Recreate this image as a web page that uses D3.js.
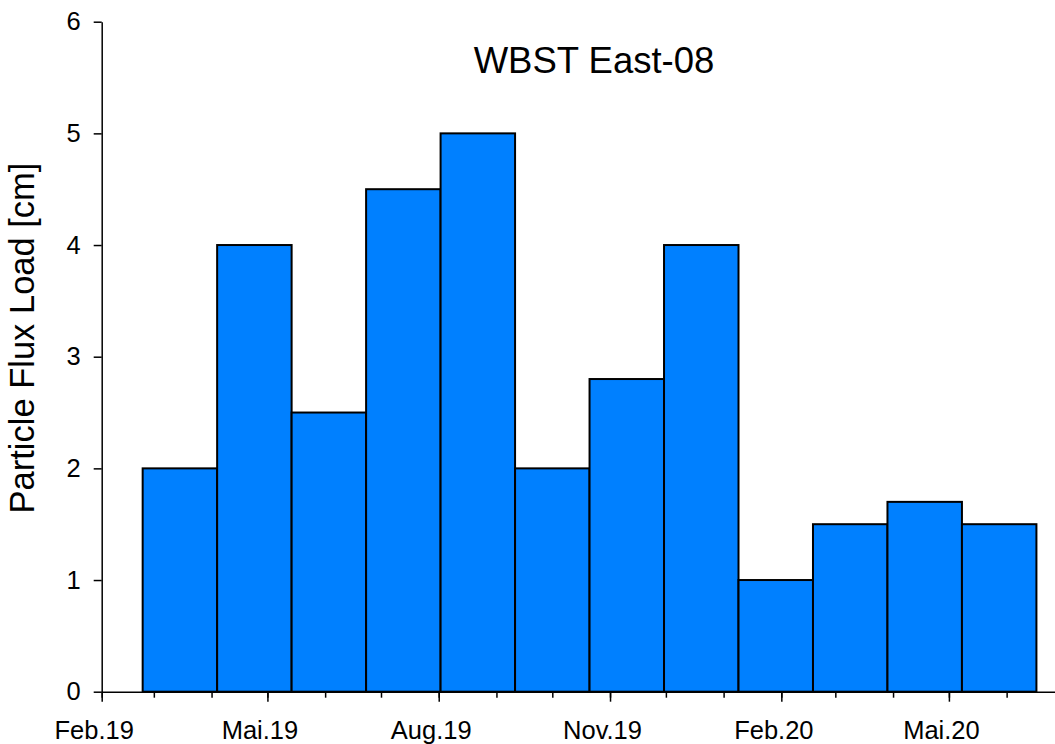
<!DOCTYPE html>
<html><head><meta charset="utf-8">
<script src="https://cdn.jsdelivr.net/npm/d3@7"></script>
<style>body{margin:0;background:#fff}</style>
</head><body>
<svg id="chart" width="1055" height="744"></svg>
<script>
// ---- data ----
const periodStart = ["2019-02-23","2019-04-04","2019-05-14","2019-06-23","2019-08-02","2019-09-11","2019-10-21","2019-11-30","2020-01-09","2020-02-18","2020-03-29","2020-05-08"];
const periodEnd   = ["2019-04-04","2019-05-14","2019-06-23","2019-08-02","2019-09-11","2019-10-21","2019-11-30","2020-01-09","2020-02-18","2020-03-29","2020-05-08","2020-06-17"];
const fluxLoad    = [2, 4, 2.5, 4.5, 5, 2, 2.8, 4, 1, 1.5, 1.7, 1.5];
const majorTickDates  = ["2019-02-01","2019-05-01","2019-08-01","2019-11-01","2020-02-01","2020-05-01"];
const majorTickLabels = ["Feb.19","Mai.19","Aug.19","Nov.19","Feb.20","Mai.20"];
const yTicks = [0, 1, 2, 3, 4, 5, 6];
const xDomain = ["2019-02-01","2020-07-01"];
const titleText = "WBST East-08";
const yLabelText = "Particle Flux Load [cm]";

// ---- layout ----
const FONT = "'Liberation Sans', Arial, sans-serif";
const x0 = 101.7, pxPerDay = 1.862;
const yBottom = 691.7, yTop = 21.7;
const parse = d3.utcParse("%Y-%m-%d");

const dom = xDomain.map(parse);
const days = (dom[1] - dom[0]) / 864e5;
const x = d3.scaleUtc().domain(dom).range([x0, x0 + days * pxPerDay]);
const y = d3.scaleLinear().domain([0, 6]).range([yBottom, yTop]);

const svg = d3.select("#chart");

const bars = fluxLoad.map((v, i) => ({ s: parse(periodStart[i]), e: parse(periodEnd[i]), v }));

svg.append("g").selectAll("rect").data(bars).join("rect")
  .attr("x", d => x(d.s))
  .attr("width", d => x(d.e) - x(d.s))
  .attr("y", d => y(d.v))
  .attr("height", d => y(0) - y(d.v))
  .attr("fill", "#0080ff")
  .attr("stroke", "#000")
  .attr("stroke-width", 2);

// minor x ticks (monthly)
const minorAxis = d3.axisBottom(x)
  .tickValues(d3.utcMonth.range(dom[0], dom[1]))
  .tickSize(6).tickSizeOuter(0).tickFormat("");
svg.append("g").attr("transform", `translate(0,${yBottom})`).call(minorAxis)
  .call(g => g.select(".domain").remove())
  .call(g => g.selectAll("line").attr("stroke", "#000").attr("stroke-width", 1.5));

// major x ticks
const majorAxis = d3.axisBottom(x)
  .tickValues(majorTickDates.map(parse))
  .tickSize(10).tickSizeOuter(0).tickPadding(19)
  .tickFormat((d, i) => majorTickLabels[i]);
svg.append("g").attr("transform", `translate(0,${yBottom})`).call(majorAxis)
  .call(g => g.select(".domain").attr("stroke", "#000").attr("stroke-width", 1.5))
  .call(g => g.selectAll("line").attr("stroke", "#000").attr("stroke-width", 1.5))
  .call(g => g.selectAll("text").attr("fill", "#000").attr("dx", -8)
    .style("font-family", FONT).style("font-size", "25.5px"));

// y axis
const yAxis = d3.axisLeft(y).tickValues(yTicks).tickFormat(d3.format("d"))
  .tickSize(8).tickSizeOuter(0).tickPadding(13);
svg.append("g").attr("transform", `translate(${x0},0)`).call(yAxis)
  .call(g => g.select(".domain").attr("stroke", "#000").attr("stroke-width", 1.5))
  .call(g => g.selectAll("line").attr("stroke", "#000").attr("stroke-width", 1.5))
  .call(g => g.selectAll("text").attr("fill", "#000").style("font-family", FONT).style("font-size", "25.5px"));

// title
svg.append("text").attr("x", 594).attr("y", 73).attr("text-anchor", "middle")
  .style("font-family", FONT).style("font-size", "36.5px").text(titleText);

// y label
svg.append("text").attr("transform", "translate(34,338) rotate(-90)")
  .attr("text-anchor", "middle")
  .style("font-family", FONT).style("font-size", "34.5px").text(yLabelText);
</script>
</body></html>
